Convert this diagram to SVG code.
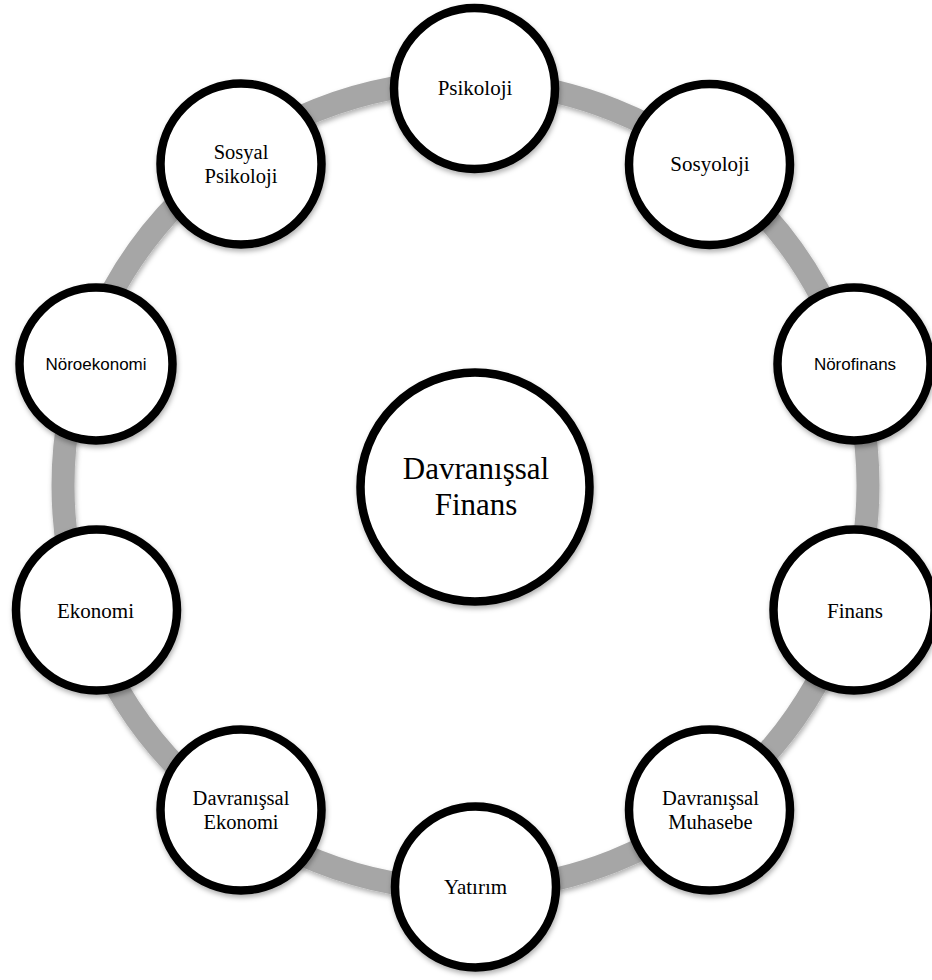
<svg xmlns="http://www.w3.org/2000/svg" width="932" height="980" viewBox="0 0 932 980">
<defs>
<filter id="sh" x="-20%" y="-20%" width="140%" height="140%">
<feDropShadow dx="1" dy="3" stdDeviation="2.5" flood-color="#000" flood-opacity="0.3"/>
</filter>
<style>
.ring{fill:none;stroke:#a6a6a6;stroke-width:23}
.node{fill:#fff;stroke:#000;stroke-width:8.5}
.t{font-family:"Liberation Serif","Times New Roman",serif;font-size:21px;fill:#000;text-anchor:middle}
.t2{font-family:"Liberation Serif","Times New Roman",serif;font-size:20.5px;fill:#000;text-anchor:middle}
.s{font-family:"Liberation Sans",Arial,sans-serif;font-size:17px;fill:#000;text-anchor:middle}
.c{font-family:"Liberation Serif","Times New Roman",serif;font-size:31px;fill:#000;text-anchor:middle}
</style>
</defs>
<rect width="932" height="980" fill="#fff"/>
<g id="connectors">
<ellipse class="ring" cx="465.5" cy="485.5" rx="402.5" ry="404" filter="url(#sh)"/>
</g>
<g id="center">
<circle class="node" cx="475" cy="487" r="114.5" filter="url(#sh)"/>
<text class="c" x="476" y="479">Davranışsal</text>
<text class="c" x="476" y="515">Finans</text>
</g>
<g id="psikoloji">
<circle class="node" cx="474.5" cy="88.5" r="80.5" filter="url(#sh)"/>
<text class="t" x="475" y="95">Psikoloji</text>
</g>
<g id="sosyoloji">
<circle class="node" cx="709.5" cy="164.5" r="80.5" filter="url(#sh)"/>
<text class="t" x="710" y="171">Sosyoloji</text>
</g>
<g id="norofinans">
<circle class="node" cx="854" cy="364" r="76.5" filter="url(#sh)"/>
<text class="s" x="855" y="370">Nörofinans</text>
</g>
<g id="finans">
<circle class="node" cx="854" cy="610" r="80.5" filter="url(#sh)"/>
<text class="t" x="855" y="617.5">Finans</text>
</g>
<g id="davranissal-muhasebe">
<circle class="node" cx="709.5" cy="810" r="80.5" filter="url(#sh)"/>
<text class="t2" x="710.5" y="804.5">Davranışsal</text>
<text class="t2" x="710.5" y="828.5">Muhasebe</text>
</g>
<g id="yatirim">
<circle class="node" cx="475.5" cy="887" r="80.5" filter="url(#sh)"/>
<text class="t" x="475.5" y="893.5">Yatırım</text>
</g>
<g id="davranissal-ekonomi">
<circle class="node" cx="241" cy="810" r="80.5" filter="url(#sh)"/>
<text class="t2" x="241" y="804.5">Davranışsal</text>
<text class="t2" x="241" y="828.5">Ekonomi</text>
</g>
<g id="ekonomi">
<circle class="node" cx="96.5" cy="610" r="80.5" filter="url(#sh)"/>
<text class="t" x="95.5" y="618">Ekonomi</text>
</g>
<g id="noroekonomi">
<circle class="node" cx="96" cy="364" r="76.5" filter="url(#sh)"/>
<text class="s" x="96" y="369.5">Nöroekonomi</text>
</g>
<g id="sosyal-psikoloji">
<circle class="node" cx="241" cy="164" r="80.5" filter="url(#sh)"/>
<text class="t2" x="241" y="158.5">Sosyal</text>
<text class="t2" x="241" y="182.5">Psikoloji</text>
</g>
</svg>
